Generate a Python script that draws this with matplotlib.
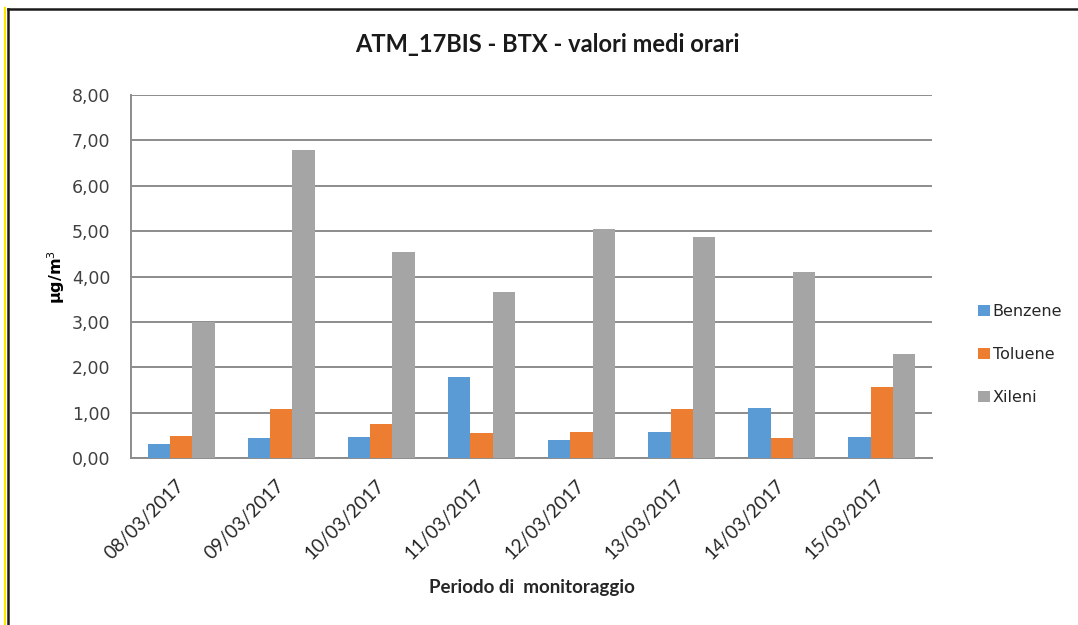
import matplotlib
matplotlib.use("Agg")
import matplotlib.pyplot as plt
import numpy as np
from matplotlib.lines import Line2D
from matplotlib.ticker import FuncFormatter, MultipleLocator

# Average hourly BTX concentrations per monitoring day
dates = ["08/03/2017", "09/03/2017", "10/03/2017", "11/03/2017",
         "12/03/2017", "13/03/2017", "14/03/2017", "15/03/2017"]
benzene = [0.30, 0.43, 0.47, 1.78, 0.40, 0.58, 1.10, 0.46]
toluene = [0.48, 1.07, 0.76, 0.54, 0.58, 1.07, 0.44, 1.56]
xileni = [3.00, 6.78, 4.53, 3.65, 5.05, 4.88, 4.09, 2.30]
series_names = ["Benzene", "Toluene", "Xileni"]
series_colors = ["#5B9BD5", "#ED7D31", "#A5A5A5"]

W, H = 1078, 625
fig = plt.figure(figsize=(W / 100, H / 100), dpi=100)
fig.patch.set_facecolor("white")

ax = fig.add_axes([131 / W, 1 - 458 / H, (932 - 131) / W, (458 - 95) / H])

x = np.arange(len(dates))
bw = 0.223
for i, (vals, name, col) in enumerate(zip([benzene, toluene, xileni], series_names, series_colors)):
    ax.bar(x + (i - 1) * bw, vals, width=bw, color=col, label=name, zorder=3)

ax.set_xlim(-0.5, len(dates) - 0.5)
ax.set_ylim(0, 8)
ax.yaxis.set_major_locator(MultipleLocator(1))
ax.yaxis.set_major_formatter(FuncFormatter(lambda v, p: f"{v:.2f}".replace(".", ",")))
ax.grid(axis="y", color="#8C8C8C", linewidth=1.4, zorder=0)
ax.set_axisbelow(True)

for s in ["top", "right"]:
    ax.spines[s].set_visible(False)
ax.spines["left"].set_color("#8C8C8C")
ax.spines["bottom"].set_color("#8C8C8C")
ax.spines["left"].set_linewidth(1.4)
ax.spines["bottom"].set_linewidth(1.4)

ax.tick_params(axis="y", length=0, pad=15, labelsize=12.5, labelcolor="#404040")
ax.tick_params(axis="x", length=0, pad=18)
ax.set_xticks(x)
ax.set_xticklabels(dates, rotation=45, ha="right", va="center",
                   rotation_mode="anchor", fontsize=13.5, family="Lato", color="#262626")
for lbl in ax.get_yticklabels():
    lbl.set_family("DejaVu Sans")

ax.set_ylabel("µg/m$^3$", fontsize=11.5, fontweight="bold", family="DejaVu Sans")
ax.yaxis.set_label_coords((67 - 131) / (932 - 131), (458 - 277) / (458 - 95))

fig.text(547 / W, 1 - 45 / H, "ATM_17BIS - BTX - valori medi orari", ha="center", va="center",
         fontsize=17, family="Lato", fontweight="bold", color="#1a1a1a")
fig.text(532 / W, 1 - 588 / H, "Periodo di  monitoraggio", ha="center", va="center",
         fontsize=13.5, family="Lato", fontweight="bold", color="#262626")

leg = fig.legend(loc="upper left", bbox_to_anchor=(972 / W, 1 - 298 / H), frameon=False,
                 fontsize=11.5, handlelength=0.7, handleheight=0.7, handletextpad=0.2,
                 labelspacing=1.75, borderaxespad=0)
for t in leg.get_texts():
    t.set_family("DejaVu Sans")
    t.set_color("#262626")

# Outer frame
fig.add_artist(Line2D([5 / W, 5 / W], [0, 1 - 8 / H], transform=fig.transFigure,
                      color="#FFE600", linewidth=1.6))
fig.add_artist(Line2D([8 / W, 8 / W], [0, 1 - 9 / H], transform=fig.transFigure,
                      color="#1a1a1a", linewidth=1.8))
fig.add_artist(Line2D([8 / W, 1], [1 - 9 / H, 1 - 9 / H], transform=fig.transFigure,
                      color="#1a1a1a", linewidth=1.8))

fig.savefig("out.png", dpi=100, facecolor="white")
